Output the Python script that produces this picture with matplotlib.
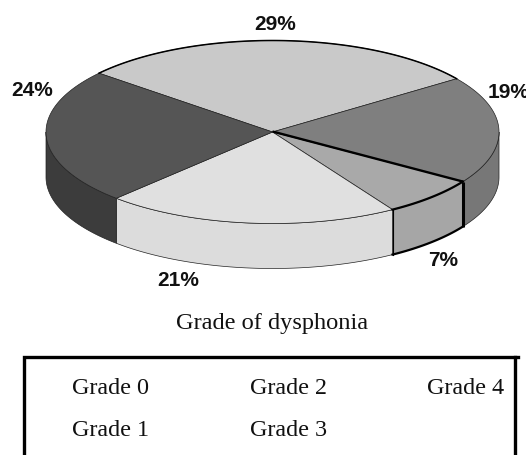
import numpy as np
import matplotlib
matplotlib.use("Agg")
import matplotlib.pyplot as plt
from matplotlib.patches import Polygon

slice_values = [29, 19, 7, 21, 24]
slice_labels = ["29%", "19%", "7%", "21%", "24%"]
legend_labels = ["Grade 0", "Grade 1", "Grade 2", "Grade 3", "Grade 4"]
chart_title = "Grade of dysphonia"

top_colors = ["#c9c9c9", "#7f7f7f", "#a9a9a9", "#e0e0e0", "#555555"]
side_colors = ["#c9c9c9", "#777777", "#a6a6a6", "#dcdcdc", "#3c3c3c"]

CX, CY, RX, RY, DEPTH = 272.5, 132.0, 226.5, 91.5, 45
START = 140.0

fig = plt.figure(figsize=(5.26, 4.55), dpi=100, facecolor="white")
ax = fig.add_axes([0, 0, 1, 1])
ax.set_xlim(0, 526)
ax.set_ylim(455, 0)
ax.axis("off")


def arc(a0, a1, dy=0.0):
    t = np.radians(np.linspace(a0, a1, 120))
    return np.column_stack([CX + RX * np.cos(t), CY - RY * np.sin(t) + dy])


angles = START - np.cumsum([0] + slice_values) * 3.6
center = np.array([[CX, CY]])

# side walls (only the front half of the rim is visible)
for i in range(len(slice_values)):
    a0, a1 = angles[i], angles[i + 1]
    wrap = [(a0, a1), (a0 - 360, a1 - 360), (a0 + 360, a1 + 360)]
    for s, e in wrap:
        s2, e2 = min(s, 0), max(e, -180)
        if s2 > e2:
            upper = arc(s2, e2)
            lower = arc(e2, s2, DEPTH)
            ax.add_patch(Polygon(np.vstack([upper, lower]), closed=True,
                                 facecolor=side_colors[i], edgecolor="#222222",
                                 linewidth=0.5, zorder=2))

# top surface
for i in range(len(slice_values)):
    a0, a1 = angles[i], angles[i + 1]
    ax.add_patch(Polygon(np.vstack([center, arc(a0, a1)]), closed=True,
                         facecolor=top_colors[i], edgecolor="#222222",
                         linewidth=0.5, zorder=3))

# heavy outlines seen in the reference
a29_0, a29_1 = angles[0], angles[1]
a7_0, a7_1 = angles[2], angles[3]
ax.plot(*arc(a29_0, a29_1).T, color="black", lw=1.1, zorder=4)
ax.plot(*arc(a7_0, a7_1).T, color="black", lw=1.6, zorder=4)
ax.plot(*arc(a7_0, a7_1, DEPTH).T, color="black", lw=1.6, zorder=4)
edge = arc(a7_0, a7_0)[0]
ax.plot([CX, edge[0]], [CY - 0.5, edge[1]], color="black", lw=1.7, zorder=4,
        solid_capstyle="butt")
ax.plot([edge[0], edge[0]], [edge[1], edge[1] + DEPTH], color="black", lw=2.2,
        zorder=4, solid_capstyle="butt")
edge2 = arc(a7_1, a7_1)[0]
ax.plot([edge2[0], edge2[0]], [edge2[1], edge2[1] + DEPTH], color="black",
        lw=0.8, zorder=4)

# percentage labels
label_pos = [(275, 25), (509, 93), (443, 261), (178, 280), (32, 91)]
for txt, (x, y) in zip(slice_labels, label_pos):
    ax.text(x, y, txt, family="Liberation Sans", fontweight="bold", fontsize=15,
            ha="center", va="center", color="#111111", clip_on=False)

ax.text(272, 324, chart_title, family="Liberation Serif", fontsize=17.6,
        ha="center", va="center", color="#111111")

# legend frame, open at the bottom (cut by the image edge)
ax.plot([24, 24, 518], [455, 357, 357], color="black", lw=2.4,
        solid_joinstyle="miter")
ax.plot([515, 515], [357, 455], color="black", lw=2.4)

legend_pos = [(72, 388), (72, 431), (250, 388), (250, 431), (427, 388)]
for txt, (x, y) in zip(legend_labels, legend_pos):
    ax.text(x, y, txt, family="Liberation Serif", fontsize=17.4, ha="left",
            va="center", color="#111111")

fig.savefig("out.png", dpi=100, facecolor="white")
